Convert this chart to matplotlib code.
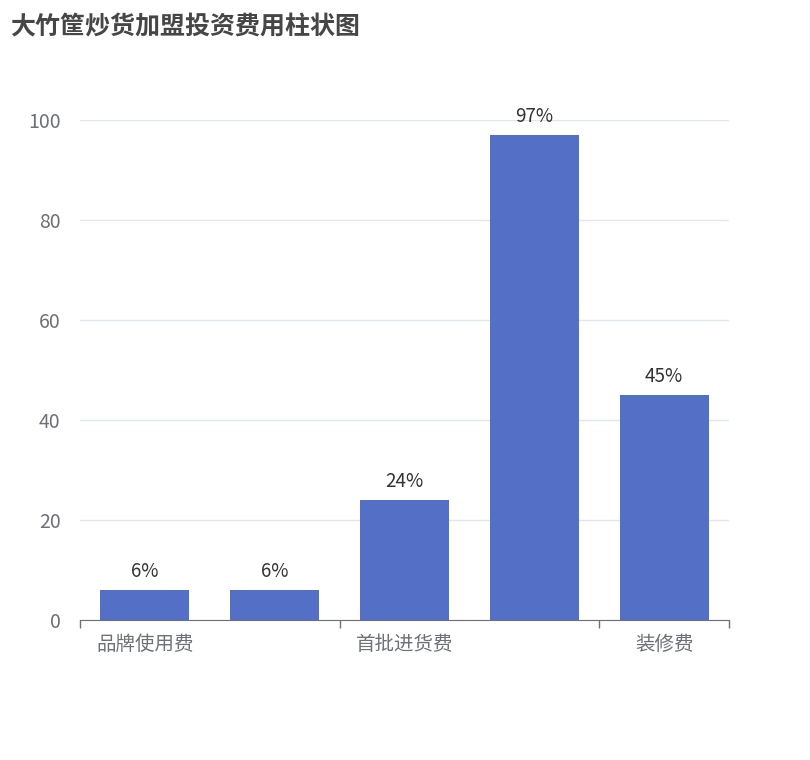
import matplotlib.pyplot as plt
import numpy as np

plt.rcParams['font.family'] = ['Noto Sans CJK SC', 'DejaVu Sans']

title = '大竹筐炒货加盟投资费用柱状图'
categories = ['品牌使用费', '加盟费', '首批进货费', '设备费', '装修费']
values = [6, 6, 24, 97, 45]
shown_labels = {0: '品牌使用费', 2: '首批进货费', 4: '装修费'}

fig = plt.figure(figsize=(8.1, 7.6), dpi=100)
ax = fig.add_axes([80/810, 140/760, 649/810, 500/760])

x = np.arange(len(categories))
ax.bar(x, values, width=0.685, color='#5470c6', zorder=3)
for xi, v in zip(x, values):
    ax.annotate(f'{v}%', (xi, v), xytext=(0, 6), textcoords='offset points',
                ha='center', va='bottom', fontsize=13.5, color='#333333')

ax.set_xlim(-0.5, len(categories) - 0.5)
ax.set_ylim(0, 100)
ax.set_yticks(range(0, 101, 20))
ax.yaxis.grid(True, color='#e0e6f1', linewidth=1)
ax.tick_params(axis='y', length=0, labelsize=14, labelcolor='#6e7079', pad=14)

# category labels centred, boundary ticks every other category
ax.set_xticks(list(shown_labels.keys()))
ax.set_xticklabels(list(shown_labels.values()))
ax.tick_params(axis='x', length=0, labelsize=14, labelcolor='#6e7079', pad=10)
ax.set_xticks([-0.5, 1.5, 3.5, 4.5], minor=True)
ax.tick_params(axis='x', which='minor', length=6, color='#6e7079', width=1)

for s in ['top', 'right', 'left']:
    ax.spines[s].set_visible(False)
ax.spines['bottom'].set_color('#6e7079')

fig.text(10/810, 1 - 27/760, title, fontsize=18, fontweight='bold',
         color='#464646', va='center', ha='left')

fig.savefig('out.png', dpi=100)
